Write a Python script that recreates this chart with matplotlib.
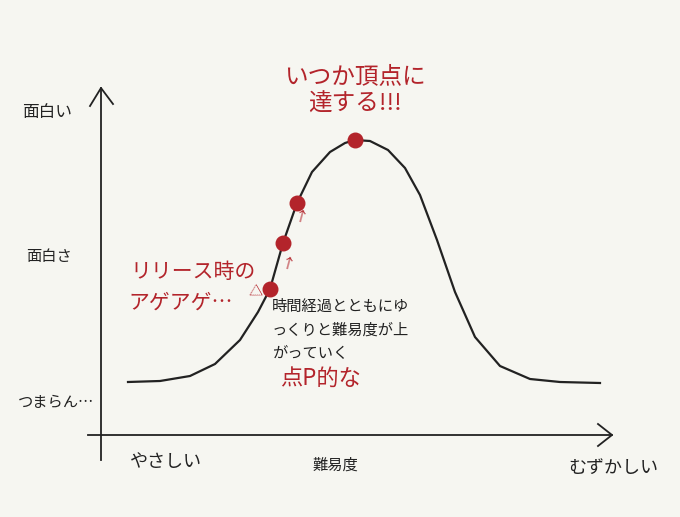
import matplotlib
matplotlib.use("Agg")
import matplotlib.pyplot as plt

plt.rcParams['font.family'] = ['Noto Sans CJK JP', 'DejaVu Sans']

# curve data (difficulty -> fun), in canvas units
curve_x = [128, 160, 190, 215, 240, 258, 270, 283, 297, 312, 330, 345, 355, 370, 388, 405, 420, 437, 455, 475, 500, 530, 560, 600]
curve_y = [382, 381, 376, 364, 340, 312, 289, 243, 203, 172, 152, 143, 140, 141, 150, 168, 195, 240, 292, 337, 366, 379, 382, 383]
dot_x = [270, 283, 297, 355]
dot_y = [289, 243, 203, 140]

RED = '#b3242b'
BG = '#f6f6f1'
fig = plt.figure(figsize=(6.8, 5.17), dpi=100, facecolor=BG)
ax = fig.add_axes([0, 0, 1, 1])
ax.set_facecolor(BG)
ax.set_xlim(0, 680)
ax.set_ylim(517, 0)
ax.axis('off')

# axes arrows
ax.plot([101, 101], [460, 88], color='#222', lw=1.3)
ax.plot([90, 101, 113], [106, 88, 104], color='#222', lw=1.3)
ax.plot([88, 612], [435, 435], color='#222', lw=1.3)
ax.plot([598, 612, 598], [424, 435, 446], color='#222', lw=1.3)

ax.plot(curve_x, curve_y, color='#222', lw=1.6)
ax.scatter(dot_x, dot_y, s=110, color=RED, zorder=3)

# small arrows between dots
ax.text(300, 218, '↑', color=RED, fontsize=10, ha='center', va='center', rotation=-15)
ax.text(287, 265, '↑', color=RED, fontsize=10, ha='center', va='center', rotation=-15)
ax.text(252, 293, '▽', color=RED, fontsize=10, ha='center', va='center', rotation=-60)

ax.text(22, 113, '面白い', fontsize=12, color='#222', va='center')
ax.text(26, 257, '面白さ', fontsize=11, color='#222', va='center')
ax.text(18, 402, 'つまらん…', fontsize=11, color='#222', va='center')
ax.text(130, 462, 'やさしい', fontsize=13, color='#222', va='center')
ax.text(335, 465, '難易度', fontsize=11, color='#222', va='center', ha='center')
ax.text(568, 468, 'むずかしい', fontsize=13, color='#222', va='center')

ax.text(355, 90, 'いつか頂点に\n達する!!!', fontsize=17, color=RED, ha='center', va='center', linespacing=1.25)
ax.text(130, 272, 'リリース時の', fontsize=15, color=RED, va='center')
ax.text(128, 303, 'アゲアゲ…', fontsize=15, color=RED, va='center')
ax.text(272, 330, '時間経過とともにゆ\nっくりと難易度が上\nがっていく', fontsize=11, color='#222', va='center', linespacing=1.5)
ax.text(280, 378, '点P的な', fontsize=16, color=RED, va='center')

fig.savefig('out.png', dpi=100, facecolor=BG)
